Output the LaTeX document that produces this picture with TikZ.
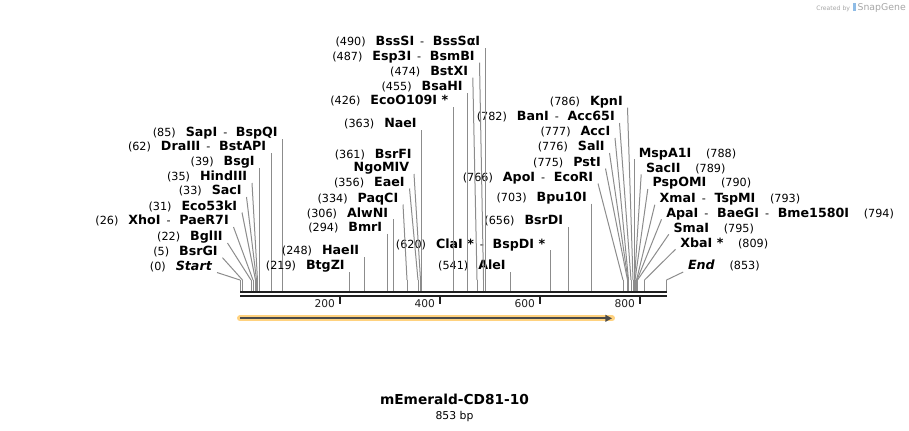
\documentclass[tikz,border=0pt]{standalone}
\usepackage{fontspec}
\setmainfont{DejaVu Sans}
\usetikzlibrary{positioning,arrows.meta}
\definecolor{cutgray}{HTML}{8C8C8C}
\definecolor{featorange}{HTML}{FFD27F}
\definecolor{featline}{HTML}{4A4A4A}
\definecolor{snapblue}{HTML}{8FBCE6}
\newcommand{\cutpos}[1]{{\mdseries\fontsize{8.4}{10}\selectfont(#1)}}
\newcommand{\enzsep}{\hspace{4.5pt}{\mdseries\fontsize{8.4}{10}\selectfont-}\hspace{6.5pt}}

\begin{document}
\begin{tikzpicture}[x=0.75pt, y=-0.75pt,
  lab/.style={font=\bfseries\fontsize{9.5}{11}\selectfont, inner xsep=3.4pt, inner ysep=1.5pt, text depth=0pt},
  labl/.style={lab, anchor=south east},
  labr/.style={lab, anchor=south west},
  cut/.style={cutgray, line width=0.75pt},
  bb/.style={line width=1.7pt, black!88},
  tick/.style={line width=1.5pt, black!88},
  ticklab/.style={font=\fontsize{8}{9}\selectfont, anchor=east, inner sep=0pt}]
  \useasboundingbox (0,0) rectangle (909,430);

  % sequence backbone
  \coordinate (seqL) at (240,292.2);
  \coordinate (seqR) at (667,292.2);
  \coordinate (axtop) at (240,291.2);
  \draw[bb] (seqL) -- (seqR);
  \draw[bb] ([yshift=-3pt]seqL) -- ([yshift=-3pt]seqR);
  \foreach \t in {200,400,600,800}
    \draw[tick] ({240+\t/2},297) -- ++(0,7) node[ticklab, xshift=-3pt] {\t};

  % cut sites (x = 240 + bp/2)
  \foreach \p in {0,5,22,26,31,33,35,39,62,85,219,248,294,306,334,356,361,363,426,455,474,487,490,541,620,656,703,766,775,776,777,782,786,788,789,790,793,794,795,809,853}{
    \coordinate (p\p) at ({240+\p/2},280);
    \draw[cut] (p\p) -- (p\p |- axtop);
  }

  % left group
  \node[labl] (sapi) at (282.5,139) {\cutpos{85}\hspace{7.5pt}SapI\enzsep BspQI};
  \node[labl] (draiii) at (271,153) {\cutpos{62}\hspace{7.5pt}DraIII\enzsep BstAPI};
  \node[labl] (bsgi) at (259.5,168) {\cutpos{39}\hspace{7.5pt}BsgI};
  \node[labl] (hindiii) at (252,183) {\cutpos{35}\hspace{7.5pt}HindIII};
  \node[labl] (saci) at (246.5,197) {\cutpos{33}\hspace{7.5pt}SacI};
  \node[labl] (eco53ki) at (242,212.5) {\cutpos{31}\hspace{7.5pt}Eco53kI};
  \node[labl] (xhoi) at (233.5,227) {\cutpos{26}\hspace{7.5pt}XhoI\enzsep PaeR7I};
  \node[labl] (bglii) at (227.5,243) {\cutpos{22}\hspace{7.5pt}BglII};
  \node[labl] (bsrgi) at (222.5,257.7) {\cutpos{5}\hspace{7.5pt}BsrGI};
  \node[labl] (seqstart) at (217,272.5) {\cutpos{0}\hspace{7.5pt}\textit{Start}};
  \draw[cut] (sapi.south east) -- (p85);
  \draw[cut] (draiii.south east) -- (p62);
  \draw[cut] (bsgi.south east) -- (p39);
  \draw[cut] (hindiii.south east) -- (p35);
  \draw[cut] (saci.south east) -- (p33);
  \draw[cut] (eco53ki.south east) -- (p31);
  \draw[cut] (xhoi.south east) -- (p26);
  \draw[cut] (bglii.south east) -- (p22);
  \draw[cut] (bsrgi.south east) -- (p5);
  \draw[cut] (seqstart.south east) -- (p0);

  % middle group
  \node[labl] (bsssi) at (485,48) {\cutpos{490}\hspace{7.5pt}BssSI\enzsep BssSαI};
  \node[labl] (esp3i) at (479.5,62.7) {\cutpos{487}\hspace{7.5pt}Esp3I\enzsep BsmBI};
  \node[labl] (bstxi) at (472.8,77.7) {\cutpos{474}\hspace{7.5pt}BstXI};
  \node[labl] (bsahi) at (467.5,93) {\cutpos{455}\hspace{7.5pt}BsaHI};
  \node[labl] (ecoo109i) at (453,107) {\cutpos{426}\hspace{7.5pt}EcoO109I *};
  \node[labl] (naei) at (421.5,130) {\cutpos{363}\hspace{7.5pt}NaeI};
  \node[labl] (bsrfi) at (416.5,160.3) {\cutpos{361}\hspace{7.5pt}BsrFI};
  \node[labl] (ngomiv) at (414,174) {NgoMIV};
  \node[labl] (eaei) at (409.5,188.5) {\cutpos{356}\hspace{7.5pt}EaeI};
  \node[labl] (paqci) at (403,204.5) {\cutpos{334}\hspace{7.5pt}PaqCI};
  \node[labl] (alwni) at (393,219.3) {\cutpos{306}\hspace{7.5pt}AlwNI};
  \node[labl] (bmri) at (387,233.7) {\cutpos{294}\hspace{7.5pt}BmrI};
  \node[labl] (haeii) at (364,257) {\cutpos{248}\hspace{7.5pt}HaeII};
  \node[labl] (btgzi) at (349.5,272) {\cutpos{219}\hspace{7.5pt}BtgZI};
  \node[labl] (clai) at (550,250.3) {\cutpos{620}\hspace{7.5pt}ClaI *\enzsep BspDI *};
  \node[labl] (alei) at (510.5,272) {\cutpos{541}\hspace{7.5pt}AleI};
  \node[labl] (bsrdi) at (568,227) {\cutpos{656}\hspace{7.5pt}BsrDI};
  \node[labl] (bpu10i) at (591.5,203.7) {\cutpos{703}\hspace{7.5pt}Bpu10I};
  \node[labl] (apoi) at (598,183.5) {\cutpos{766}\hspace{7.5pt}ApoI\enzsep EcoRI};
  \node[labl] (psti) at (605.5,168.5) {\cutpos{775}\hspace{7.5pt}PstI};
  \node[labl] (sali) at (609.5,153) {\cutpos{776}\hspace{7.5pt}SalI};
  \node[labl] (acci) at (615,138) {\cutpos{777}\hspace{7.5pt}AccI};
  \node[labl] (bani) at (619.5,123) {\cutpos{782}\hspace{7.5pt}BanI\enzsep Acc65I};
  \node[labl] (kpni) at (627.5,107.7) {\cutpos{786}\hspace{7.5pt}KpnI};
  \draw[cut] (bsssi.south east) -- (p490);
  \draw[cut] (esp3i.south east) -- (p487);
  \draw[cut] (bstxi.south east) -- (p474);
  \draw[cut] (bsahi.south east) -- (p455);
  \draw[cut] (ecoo109i.south east) -- (p426);
  \draw[cut] (naei.south east) -- (p363);
  \draw[cut] (ngomiv.south east) -- (p361);
  \draw[cut] (eaei.south east) -- (p356);
  \draw[cut] (paqci.south east) -- (p334);
  \draw[cut] (alwni.south east) -- (p306);
  \draw[cut] (bmri.south east) -- (p294);
  \draw[cut] (haeii.south east) -- (p248);
  \draw[cut] (btgzi.south east) -- (p219);
  \draw[cut] (clai.south east) -- (p620);
  \draw[cut] (alei.south east) -- (p541);
  \draw[cut] (bsrdi.south east) -- (p656);
  \draw[cut] (bpu10i.south east) -- (p703);
  \draw[cut] (apoi.south east) -- (p766);
  \draw[cut] (psti.south east) -- (p775);
  \draw[cut] (sali.south east) -- (p776);
  \draw[cut] (acci.south east) -- (p777);
  \draw[cut] (bani.south east) -- (p782);
  \draw[cut] (kpni.south east) -- (p786);

  % right group
  \node[labr] (mspa1i) at (634,159.3) {MspA1I\hspace{11pt}\cutpos{788}};
  \node[labr] (sacii) at (641.2,174.3) {SacII\hspace{11pt}\cutpos{789}};
  \node[labr] (pspomi) at (647.8,189) {PspOMI\hspace{11pt}\cutpos{790}};
  \node[labr] (xmai) at (654.8,204.7) {XmaI\enzsep TspMI\hspace{11pt}\cutpos{793}};
  \node[labr] (apai) at (661.5,219.3) {ApaI\enzsep BaeGI\enzsep Bme1580I\hspace{11pt}\cutpos{794}};
  \node[labr] (smai) at (668.8,234.3) {SmaI\hspace{11pt}\cutpos{795}};
  \node[labr] (xbai) at (675.5,249.3) {XbaI *\hspace{11pt}\cutpos{809}};
  \node[labr] (seqend) at (683.2,272) {\textit{End}\hspace{11pt}\cutpos{853}};
  \draw[cut] (mspa1i.south west) -- (p788);
  \draw[cut] (sacii.south west) -- (p789);
  \draw[cut] (pspomi.south west) -- (p790);
  \draw[cut] (xmai.south west) -- (p793);
  \draw[cut] (apai.south west) -- (p794);
  \draw[cut] (smai.south west) -- (p795);
  \draw[cut] (xbai.south west) -- (p809);
  \draw[cut] (seqend.south west) -- (p853);

  % feature
  \coordinate (fs) at (240,318.3);
  \coordinate (fe) at (612,318.3);
  \draw[featorange, line width=4.5pt, line cap=round] (fs) -- (fe);
  \draw[featline, line width=1.5pt, -{Triangle[length=5pt,width=5pt]}] (fs) -- (fe);

  \node[font=\bfseries\fontsize{10.3}{12}\selectfont] (title) at (454.5,399.5) {mEmerald-CD81-10};
  \node[font=\fontsize{8.1}{10}\selectfont, inner sep=1pt, below=0pt of title] (len) {853 bp};

  \node[anchor=east, inner sep=0pt, text=black!35, font=\fontsize{4.6}{6}\selectfont] (credit) at (906,7.5)
    {Created by\hspace{2pt}\textcolor{snapblue}{\rule[-0.6pt]{2.2pt}{6pt}}\hspace{1.5pt}{\fontsize{7}{8}\selectfont SnapGene}};
\end{tikzpicture}
\end{document}
